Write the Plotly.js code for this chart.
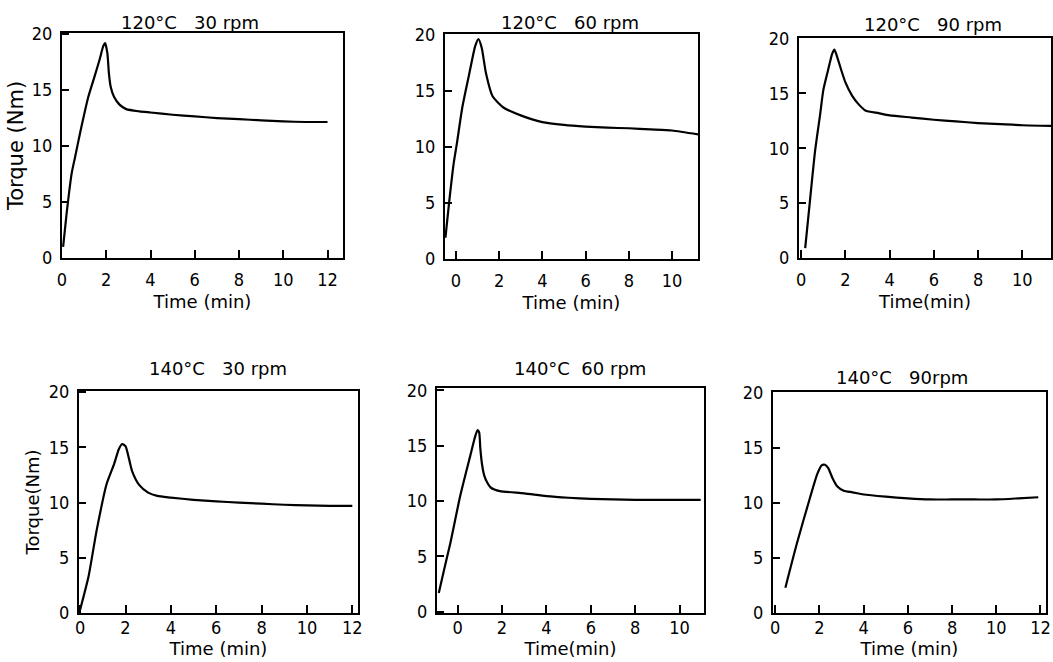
<!DOCTYPE html>
<html>
<head>
<meta charset="utf-8">
<script src="https://cdn.plot.ly/plotly-3.0.1.min.js"></script>
<style>html,body{margin:0;padding:0;background:#fff;}#chart{width:1053px;height:662px;}</style>
</head>
<body>
<div id="chart"></div>
<script>
// Panel titles
const panelTitles = ["120°C\u00a0\u00a0\u00a030 rpm", "120°C\u00a0\u00a0\u00a060 rpm", "120°C\u00a0\u00a0\u00a090 rpm",
                     "140°C\u00a0\u00a0\u00a030 rpm", "140°C\u00a0\u00a060 rpm", "140°C\u00a0\u00a0\u00a090rpm"];
const xTitles = ["Time (min)", "Time (min)", "Time(min)", "Time (min)", "Time(min)", "Time (min)"];
const yTitle1 = "Torque (Nm)";
const yTitle4 = "Torque(Nm)";

// 120 °C, 30 rpm
const time1   = [0.05, 0.21, 0.44, 0.59, 0.81, 1.19, 1.5, 1.71, 1.86, 1.95, 2.05, 2.12, 2.2, 2.35, 2.6, 2.9, 3.5, 4, 5, 6, 7, 8, 9, 10, 11, 12];
const torque1 = [1.0, 4.0, 7.6, 9.0, 11.1, 14.4, 16.4, 17.8, 18.9, 19.2, 18.3, 16.5, 15.3, 14.4, 13.7, 13.3, 13.1, 13.0, 12.8, 12.65, 12.5, 12.4, 12.3, 12.2, 12.15, 12.15];
// 120 °C, 60 rpm
const time2   = [-0.48, -0.3, -0.1, 0.05, 0.3, 0.6, 0.9, 1.05, 1.2, 1.4, 1.7, 2.2, 3, 4, 5, 6, 7, 8, 9, 10, 11.2];
const torque2 = [1.9, 5.2, 8.5, 10.3, 13.5, 16.3, 19.0, 19.6, 18.8, 16.5, 14.5, 13.5, 12.8, 12.2, 11.95, 11.8, 11.7, 11.65, 11.55, 11.45, 11.1];
// 120 °C, 90 rpm
const time3   = [0.18, 0.4, 0.63, 0.85, 1.0, 1.2, 1.4, 1.5, 1.6, 1.8, 2.0, 2.3, 2.6, 2.9, 3.5, 4, 5, 6, 7, 8, 9, 10, 11.3];
const torque3 = [0.9, 5.3, 9.8, 13.0, 15.3, 17.0, 18.6, 19.0, 18.5, 17.2, 16.0, 14.8, 14.0, 13.45, 13.2, 13.0, 12.8, 12.6, 12.45, 12.3, 12.2, 12.1, 12.05];
// 140 °C, 30 rpm
const time4   = [0.0, 0.37, 0.73, 1.17, 1.5, 1.7, 1.85, 2.0, 2.15, 2.3, 2.6, 3.0, 3.4, 4, 5, 6, 7, 8, 9, 10, 11, 12];
const torque4 = [0.3, 3.3, 7.5, 11.7, 13.5, 14.8, 15.3, 15.1, 14.0, 12.8, 11.6, 10.9, 10.6, 10.45, 10.25, 10.1, 10.0, 9.9, 9.8, 9.75, 9.7, 9.7];
// 140 °C, 60 rpm
const time5   = [-0.85, -0.6, -0.33, 0.12, 0.57, 0.8, 0.9, 0.97, 1.02, 1.1, 1.2, 1.35, 1.5, 1.9, 3, 4, 5, 6, 7, 8, 9, 10, 10.95];
const torque5 = [1.7, 3.9, 6.2, 10.5, 14.1, 15.9, 16.4, 16.2, 14.8, 13.3, 12.3, 11.6, 11.2, 10.9, 10.7, 10.45, 10.3, 10.2, 10.15, 10.1, 10.1, 10.1, 10.1];
// 140 °C, 90 rpm
const time6   = [0.46, 0.98, 1.58, 1.9, 2.1, 2.25, 2.4, 2.6, 2.8, 3.1, 3.5, 4, 5, 6, 7, 8, 9, 10, 11, 11.9];
const torque6 = [2.3, 6.3, 10.5, 12.6, 13.4, 13.45, 13.15, 12.2, 11.5, 11.1, 10.95, 10.75, 10.55, 10.4, 10.3, 10.3, 10.3, 10.3, 10.4, 10.5];

const times = [time1, time2, time3, time4, time5, time6];
const torques = [torque1, torque2, torque3, torque4, torque5, torque6];

// layout geometry (pixels): [left, right, top, bottom]
const W = 1053, H = 662;
const boxes = [[62, 343, 33, 258], [445, 698, 34, 259], [799, 1051, 38, 258],
               [79, 358, 391, 613], [437, 704, 388, 613], [773, 1046, 392, 613]];
const xRanges = [[0, 12.7], [-0.5, 11.2], [-0.1, 11.3], [-0.05, 12.25], [-0.93, 11.1], [-0.1, 12.25]];
const yRanges = [[0, 20.1], [0, 20.05], [0, 20.05], [0, 20.1], [-0.1, 20.2], [0, 20.05]];
const titlePos = [[190, 23], [570, 23], [933, 25], [218, 368], [580, 368], [902, 377]];

const FONT = "DejaVu Sans Condensed, DejaVu Sans";
const TFONT = "DejaVu Sans";
const TICK = 18, TTL = 18;
const data = [];
const layout = {
  width: W, height: H,
  margin: {l: 0, r: 0, t: 0, b: 0},
  paper_bgcolor: "#fff", plot_bgcolor: "#fff",
  showlegend: false,
  font: {family: FONT, size: TICK, color: "#000"},
  annotations: []
};

for (let i = 0; i < 6; i++) {
  const n = i + 1;
  const xa = n === 1 ? "x" : "x" + n;
  const ya = n === 1 ? "y" : "y" + n;
  data.push({
    x: times[i], y: torques[i], xaxis: xa, yaxis: ya,
    type: "scatter", mode: "lines",
    line: {color: "#000", width: 2.2, shape: "spline", smoothing: 0.6},
    hoverinfo: "skip"
  });
  const b = boxes[i];
  const row1 = i < 3;
  layout["xaxis" + (n === 1 ? "" : n)] = {
    domain: [b[0] / W, b[1] / W], anchor: ya, range: xRanges[i],
    dtick: 2, tick0: 0, ticks: "inside", ticklen: 8, tickwidth: 2, tickcolor: "#000",
    showline: true, linewidth: 2, linecolor: "#000", mirror: true,
    showgrid: false, zeroline: false, fixedrange: true,
    ticklabelstandoff: row1 ? 4 : -3, ticklabeloverflow: "allow",
    tickfont: {family: FONT, size: TICK, color: "#000"},
    title: {text: xTitles[i], standoff: row1 ? 7 : 0, font: {family: TFONT, size: TTL, color: "#000"}}
  };
  const yax = {
    domain: [1 - b[3] / H, 1 - b[2] / H], anchor: xa, range: yRanges[i],
    dtick: 5, tick0: 0, ticks: "inside", ticklen: 7, tickwidth: 2, tickcolor: "#000",
    showline: true, linewidth: 2, linecolor: "#000", mirror: true,
    showgrid: false, zeroline: false, fixedrange: true,
    ticklabelstandoff: 4, ticklabeloverflow: "allow",
    tickfont: {family: FONT, size: TICK, color: "#000"}
  };
  if (n === 1) yax.title = {text: yTitle1, standoff: 2, font: {family: TFONT, size: 21, color: "#000"}};
  if (n === 4) yax.title = {text: yTitle4, standoff: 4, font: {family: TFONT, size: 18, color: "#000"}};
  layout["yaxis" + (n === 1 ? "" : n)] = yax;
  layout.annotations.push({
    text: panelTitles[i], xref: "paper", yref: "paper",
    x: titlePos[i][0] / W, y: 1 - titlePos[i][1] / H,
    xanchor: "center", yanchor: "middle", showarrow: false,
    font: {family: TFONT, size: TTL, color: "#000"}
  });
}

Plotly.newPlot("chart", data, layout, {displayModeBar: false, staticPlot: true});
</script>
</body>
</html>
